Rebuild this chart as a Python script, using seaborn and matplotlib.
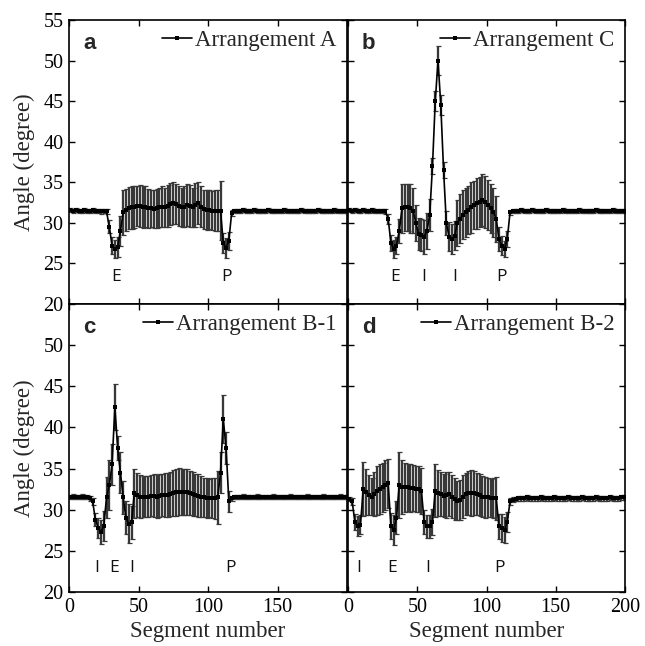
import matplotlib
matplotlib.use("Agg")
import matplotlib.pyplot as plt
import seaborn as sns
import numpy as np

# ---------------- data ----------------
SEGMENTS = list(range(1, 200, 2))   # segment numbers sampled

X_TICKS = [0, 50, 100, 150, 200]
Y_TICKS = [20, 25, 30, 35, 40, 45, 50, 55]

# Arrangement A (panel a)
A_mean = [31.6, 31.5, 31.6, 31.5, 31.5, 31.6, 31.5, 31.5, 31.6, 31.5, 31.5, 31.4, 31.5, 31.4,
          29.5, 27.2, 26.8, 27.0, 29.0,
          31.3, 31.6, 31.8, 31.9, 32.0, 32.1, 32.1, 32.0, 32.0, 31.8, 31.8, 31.7, 31.8, 31.9, 32.0,
          31.9, 32.1, 32.3, 32.4, 32.3, 32.1, 31.9, 32.0, 32.2, 32.1, 31.9, 32.2, 32.4, 32.0, 31.7,
          31.6, 31.6, 31.5, 31.5, 31.5, 31.5,
          27.5, 26.9, 27.8, 31.2,
          31.5, 31.5, 31.5, 31.6, 31.5, 31.5, 31.5, 31.6, 31.5, 31.5, 31.5, 31.5, 31.6, 31.5, 31.5,
          31.5, 31.5, 31.5, 31.6, 31.5, 31.5, 31.5, 31.5, 31.5, 31.6, 31.5, 31.5, 31.5, 31.5, 31.5,
          31.6, 31.5, 31.5, 31.5, 31.5, 31.5, 31.6, 31.5, 31.5, 31.5, 31.5]
A_err = [0.25, 0.25, 0.25, 0.25, 0.25, 0.25, 0.25, 0.25, 0.25, 0.25, 0.25, 0.25, 0.25, 0.3,
         0.8, 1.0, 1.1, 1.2, 1.8,
         2.8, 2.6, 2.6, 2.6, 2.6, 2.5, 2.6, 2.6, 2.5, 2.4, 2.3, 2.3, 2.4, 2.4, 2.5,
         2.4, 2.6, 2.6, 2.6, 2.5, 2.5, 2.4, 2.5, 2.6, 2.6, 2.4, 2.7, 2.6, 2.5, 2.4,
         2.5, 2.4, 2.4, 2.5, 2.5, 3.6,
         1.2, 1.2, 1.1, 0.4,
         0.25, 0.25, 0.25, 0.25, 0.25, 0.25, 0.25, 0.25, 0.25, 0.25, 0.25, 0.25, 0.25, 0.25, 0.25,
         0.25, 0.25, 0.25, 0.25, 0.25, 0.25, 0.25, 0.25, 0.25, 0.25, 0.25, 0.25, 0.25, 0.25, 0.25,
         0.25, 0.25, 0.25, 0.25, 0.25, 0.25, 0.25, 0.25, 0.25, 0.25, 0.25]

# Arrangement C (panel b)
C_mean = [31.6, 31.5, 31.6, 31.5, 31.5, 31.6, 31.5, 31.5, 31.6, 31.5, 31.5, 31.5, 31.5, 31.4,
          30.5, 27.5, 26.8, 27.2, 29.0,
          31.8, 31.9, 31.9, 31.8, 31.5,
          30.0, 28.6, 28.5, 28.3, 29.0, 31.0,
          37.0, 45.0, 50.0, 44.5, 36.5,
          30.0, 28.3, 28.0, 28.4,
          30.0, 30.5, 31.0, 31.3, 31.6, 31.9, 32.2, 32.4, 32.6, 32.8, 32.6, 32.2, 31.8, 31.3, 30.5,
          28.0, 27.2, 26.8, 28.0,
          31.3,
          31.5, 31.5, 31.5, 31.6, 31.5, 31.5, 31.5, 31.6, 31.5, 31.5, 31.5, 31.5, 31.6, 31.5, 31.5,
          31.5, 31.5, 31.5, 31.6, 31.5, 31.5, 31.5, 31.5, 31.5, 31.6, 31.5, 31.5, 31.5, 31.5, 31.5,
          31.6, 31.5, 31.5, 31.5, 31.5, 31.5, 31.6, 31.5, 31.5, 31.5, 31.5]
C_err = [0.25, 0.25, 0.25, 0.25, 0.25, 0.25, 0.25, 0.25, 0.25, 0.25, 0.25, 0.25, 0.25, 0.3,
         0.6, 1.0, 1.1, 1.0, 1.5,
         3.0, 2.9, 2.9, 3.0, 2.8,
         2.2, 2.0, 2.0, 2.1, 2.2, 2.0,
         1.0, 1.2, 1.8, 1.2, 1.0,
         1.5, 1.8, 1.8, 1.8,
         2.8, 3.0, 3.0, 3.0, 3.0, 3.1, 3.0, 3.1, 3.1, 3.2, 3.2, 3.1, 3.0, 3.0, 2.8,
         1.5, 1.2, 1.0, 1.0,
         0.3,
         0.25, 0.25, 0.25, 0.25, 0.25, 0.25, 0.25, 0.25, 0.25, 0.25, 0.25, 0.25, 0.25, 0.25, 0.25,
         0.25, 0.25, 0.25, 0.25, 0.25, 0.25, 0.25, 0.25, 0.25, 0.25, 0.25, 0.25, 0.25, 0.25, 0.25,
         0.25, 0.25, 0.25, 0.25, 0.25, 0.25, 0.25, 0.25, 0.25, 0.25, 0.25]

# Arrangement B-1 (panel c)
B1_mean = [31.5, 31.6, 31.5, 31.5, 31.6, 31.5, 31.5, 31.4,
           31.0, 28.8, 27.8, 27.3, 28.0, 31.5, 33.0, 35.5, 42.5, 37.5, 34.5, 31.5, 29.0, 28.3, 28.5,
           32.0, 31.8, 31.6, 31.6, 31.6, 31.6, 31.7, 31.7, 31.6, 31.7, 31.8, 31.8, 31.8, 31.9, 32.0,
           32.1, 32.2, 32.2, 32.1, 32.1, 32.0, 31.9, 31.8, 31.7, 31.6, 31.5, 31.4, 31.4, 31.4, 31.4,
           31.5,
           34.5, 41.0, 37.5, 31.0,
           31.4, 31.5, 31.5, 31.5, 31.6, 31.5, 31.5, 31.5, 31.5, 31.6, 31.5, 31.5, 31.5, 31.5,
           31.5, 31.6, 31.5, 31.5, 31.5, 31.5, 31.5, 31.6, 31.5, 31.5, 31.5, 31.5, 31.5, 31.6,
           31.5, 31.5, 31.5, 31.5, 31.5, 31.6, 31.5, 31.5, 31.5, 31.5, 31.5, 31.6, 31.5, 31.5]
B1_err = [0.25, 0.25, 0.25, 0.25, 0.25, 0.25, 0.25, 0.3,
          0.4, 0.8, 1.2, 1.5, 1.8, 2.5, 3.0, 2.5, 2.8, 1.5, 2.5, 2.0, 2.0, 2.4, 2.0,
          3.0, 2.7, 2.6, 2.5, 2.5, 2.5, 2.5, 2.6, 2.6, 2.6, 2.6, 2.7, 2.7, 2.7, 2.8,
          2.9, 2.9, 2.8, 2.8, 2.8, 2.7, 2.7, 2.6, 2.6, 2.5, 2.4, 2.4, 2.3, 2.4, 2.5,
          3.2,
          2.5, 2.9, 2.0, 1.3,
          0.3, 0.25, 0.25, 0.25, 0.25, 0.25, 0.25, 0.25, 0.25, 0.25, 0.25, 0.25, 0.25, 0.25,
          0.25, 0.25, 0.25, 0.25, 0.25, 0.25, 0.25, 0.25, 0.25, 0.25, 0.25, 0.25, 0.25, 0.25,
          0.25, 0.25, 0.25, 0.25, 0.25, 0.25, 0.25, 0.25, 0.25, 0.25, 0.25, 0.25, 0.25, 0.25]

# Arrangement B-2 (panel d)
B2_mean = [31.3, 31.0, 28.5, 28.0, 28.2,
           32.5, 32.2, 31.8, 31.6, 31.9, 32.3, 32.5, 32.7, 33.0, 33.2,
           28.0, 27.5, 29.0,
           33.0, 32.8, 32.7, 32.7, 32.6, 32.6, 32.5, 32.5, 32.3,
           28.5, 28.0, 28.0, 28.5,
           32.3, 32.0, 31.9, 31.7, 31.8, 31.9, 31.6, 31.3, 31.1, 31.2, 31.6, 31.9, 32.0, 32.0,
           32.0, 31.9, 31.8, 31.6, 31.5, 31.5, 31.4, 31.4, 31.4,
           28.0, 27.8, 27.5, 28.5,
           31.0, 31.2, 31.3,
           31.4, 31.4, 31.4, 31.5, 31.4, 31.4, 31.4, 31.4, 31.5, 31.4, 31.4, 31.4, 31.4,
           31.5, 31.4, 31.4, 31.4, 31.4, 31.5, 31.4, 31.4, 31.4, 31.4, 31.5, 31.4, 31.4,
           31.4, 31.4, 31.5, 31.4, 31.4, 31.4, 31.4, 31.5, 31.4, 31.4, 31.4, 31.5, 31.5]
B2_err = [0.3, 0.4, 1.0, 1.2, 1.2,
          3.3, 2.8, 2.4, 2.2, 2.7, 3.0, 3.0, 3.0, 3.0, 3.0,
          1.6, 1.8, 2.0,
          4.0, 3.3, 3.0, 2.8, 2.9, 2.8, 2.8, 2.8, 2.8,
          1.5, 1.4, 1.4, 1.6,
          3.2, 2.8, 2.7, 2.6, 2.8, 2.7, 2.6, 2.6, 2.4, 2.4, 2.6, 2.6, 2.7, 2.8,
          2.7, 2.6, 2.6, 2.5, 2.5, 2.4, 2.3, 2.4, 2.6,
          1.5, 1.7, 1.6, 1.2,
          0.4, 0.3, 0.3,
          0.3, 0.3, 0.3, 0.3, 0.3, 0.3, 0.3, 0.3, 0.3, 0.3, 0.3, 0.3, 0.3,
          0.3, 0.3, 0.3, 0.3, 0.3, 0.3, 0.3, 0.3, 0.3, 0.3, 0.3, 0.3, 0.3,
          0.3, 0.3, 0.3, 0.3, 0.3, 0.3, 0.3, 0.3, 0.3, 0.3, 0.3, 0.3, 0.3]

PANEL_LETTERS = ["a", "b", "c", "d"]
LEGEND_LABELS = ["Arrangement A", "Arrangement C", "Arrangement B-1", "Arrangement B-2"]
MARKER_TEXT = [
    [("E", 33.7), ("P", 113)],
    [("E", 34), ("I", 55), ("I", 76.8), ("P", 110.5)],
    [("I", 20), ("E", 32.5), ("I", 45.3), ("P", 116)],
    [("I", 8), ("E", 32), ("I", 57.4), ("P", 109.3)],
]
MARKER_Y = [23.35, 23.35, 22.9, 22.9]

SERIES = [(A_mean, A_err), (C_mean, C_err), (B1_mean, B1_err), (B2_mean, B2_err)]

# ---------------- style ----------------
sns.set_style("ticks")
plt.rcParams["font.family"] = ["Liberation Serif", "DejaVu Serif"]

W, H = 645, 646
fig = plt.figure(figsize=(W / 100, H / 100), dpi=100)

def px_axes(left, top, right, bottom):
    return fig.add_axes([left / W, 1 - bottom / H, (right - left) / W, (bottom - top) / H])

axes = [
    px_axes(69, 20, 347, 304),
    px_axes(348, 20, 625, 304),
    px_axes(69, 304, 347, 592),
    px_axes(348, 304, 625, 592),
]

for i, ax in enumerate(axes):
    mean, err = SERIES[i]
    ax.errorbar(SEGMENTS, mean, yerr=err, fmt="none", ecolor="#383838",
                elinewidth=1.65, capsize=1.8, capthick=0.9, zorder=2)
    sns.lineplot(x=SEGMENTS, y=mean, ax=ax, color="black", marker="s",
                 markersize=3.3, markeredgewidth=0, linewidth=1.2,
                 label=LEGEND_LABELS[i], zorder=3)
    ax.set_xlim(0, 200)
    ax.set_ylim(20, 55)
    ax.set_xticks(X_TICKS)
    ax.set_yticks(Y_TICKS)
    ax.tick_params(direction="in", top=True, right=True, length=4.5, width=1.0,
                   labelsize=14.5, pad=4, colors="black")
    for sp in ax.spines.values():
        sp.set_linewidth(1.2)
        sp.set_color("black")
    if i in (0, 1):
        ax.tick_params(labelbottom=False)
        ax.set_xlabel("")
    else:
        ax.set_xlabel("Segment number", fontsize=16.5, labelpad=3)
    if i in (1, 3):
        ax.tick_params(labelleft=False)
        ax.set_ylabel("")
    else:
        ax.set_ylabel("Angle (degree)", fontsize=16.5, labelpad=6)
    if i == 2:
        ax.set_xticklabels(["0", "50", "100", "150", ""])
        ax.set_yticklabels(["20", "25", "30", "35", "40", "45", "50", ""])

    ax.legend(loc="upper right", frameon=False, fontsize=16.5,
              handlelength=1.3, handletextpad=0.15, borderaxespad=0.25,
              borderpad=0.2)
    ax.text(0.05, 0.955, PANEL_LETTERS[i], transform=ax.transAxes,
            fontsize=16, fontweight="bold", family="Liberation Sans",
            ha="left", va="top")
    for txt, xpos in MARKER_TEXT[i]:
        ax.text(xpos, MARKER_Y[i], txt, fontsize=12.5, family="Open Sans",
                ha="center", va="center", color="#111111")

fig.savefig("out.png", dpi=100)
